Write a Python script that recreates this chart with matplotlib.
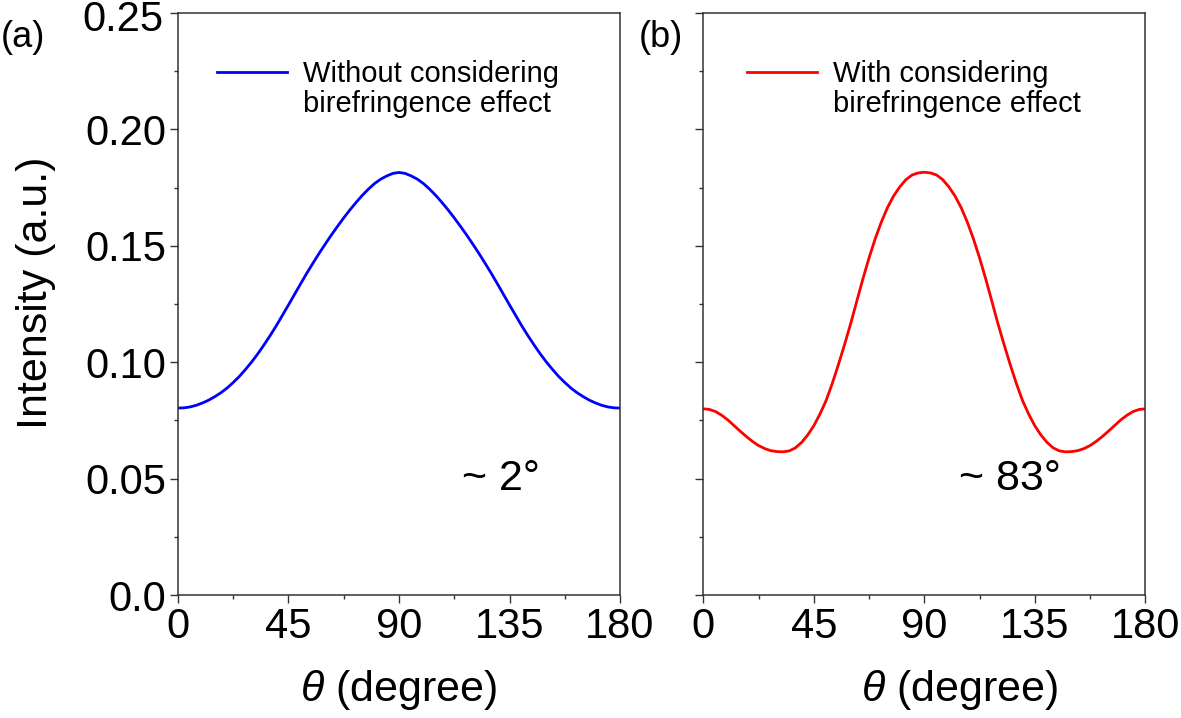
import numpy as np
import matplotlib.pyplot as plt
from matplotlib.ticker import MultipleLocator

plt.rcParams['font.family'] = ['Liberation Sans', 'DejaVu Sans']
plt.rcParams['mathtext.fontset'] = 'custom'
plt.rcParams['mathtext.it'] = 'Liberation Sans:italic'
plt.rcParams['mathtext.rm'] = 'Liberation Sans'

# angle (degree), 2.5 degree steps
theta = np.arange(0, 180.1, 2.5)

# for 0..90, the curves are mirrored about 90
half_blue = [0.0803, 0.0804, 0.0808, 0.0815, 0.0825, 0.0837, 0.0852, 0.0869,
             0.0889, 0.0913, 0.0939, 0.0969, 0.1001, 0.1036, 0.1074, 0.1114,
             0.1156, 0.1201, 0.1246, 0.1292, 0.1338, 0.1383, 0.1426, 0.1468,
             0.1508, 0.1547, 0.1584, 0.1620, 0.1654, 0.1686, 0.1716, 0.1743,
             0.1767, 0.1786, 0.1800, 0.1811, 0.1815]
half_red = [0.0800, 0.0797, 0.0788, 0.0772, 0.0752, 0.0728, 0.0704, 0.0681,
            0.0660, 0.0642, 0.0629, 0.0620, 0.0616, 0.0615, 0.0619, 0.0632,
            0.0655, 0.0687, 0.0727, 0.0777, 0.0835, 0.0908, 0.0989, 0.1075,
            0.1165, 0.1262, 0.1358, 0.1448, 0.1530, 0.1602, 0.1664, 0.1714,
            0.1753, 0.1784, 0.1804, 0.1813, 0.1816]
intensity_blue = half_blue + half_blue[-2::-1]
intensity_red = half_red + half_red[-2::-1]

legend_blue = ['Without considering', 'birefringence effect']
legend_red = ['With considering', 'birefringence effect']
yticks = [0, 0.05, 0.10, 0.15, 0.20, 0.25]
xticks = [0, 45, 90, 135, 180]

fig = plt.figure(figsize=(11.81, 7.18), dpi=100)
ax1 = fig.add_axes([0.1507, 0.1713, 0.3743, 0.8106])
ax2 = fig.add_axes([0.5955, 0.1713, 0.3743, 0.8106])

ax1.plot(theta, intensity_blue, color='#0000ff', lw=2.0, label=legend_blue[0])
ax2.plot(theta, intensity_red, color='#ff0000', lw=2.0, label=legend_red[0])

legs = []
for ax, lx in ((ax1, 0.088), (ax2, 0.0995)):
    ax.set_xlim(0, 180)
    ax.set_ylim(0, 0.25)
    ax.set_xticks(xticks)
    ax.set_yticks(yticks)
    ax.xaxis.set_minor_locator(MultipleLocator(22.5))
    ax.yaxis.set_minor_locator(MultipleLocator(0.025))
    ax.tick_params(which='major', direction='out', length=5.5, width=1.0,
                   color='#333333', labelsize=30, pad=3)
    ax.tick_params(which='minor', direction='out', length=3, width=1.0, color='#333333')
    for s in ax.spines.values():
        s.set_color('#333333')
        s.set_linewidth(1.1)
    ax.set_xlabel(r'$\theta$ (degree)', fontsize=31)
    leg = ax.legend(loc='upper left', bbox_to_anchor=(lx, 0.919), frameon=False,
                    fontsize=21, handlelength=2.4, handletextpad=0.55,
                    borderpad=0, borderaxespad=0)
    legs.append(leg)

# y labels: 0.0, 0.05 ... ; the top one is nudged down like in the original
ax1.set_yticklabels(['0.0', '0.05', '0.10', '0.15', '0.20', ''])
ax1.annotate('0.25', xy=(0, 0.25), xycoords=('axes fraction', 'data'),
             xytext=(-10.5, -5), textcoords='offset points',
             ha='right', va='center', fontsize=30)
ax2.tick_params(axis='y', labelleft=False)

ax1.set_ylabel('Intensity (a.u.)', fontsize=31)
ax1.yaxis.set_label_coords(-0.275, 0.52)
ax1.xaxis.set_label_coords(0.5, -0.125)
ax2.xaxis.set_label_coords(0.58, -0.125)

# second line of each legend entry, under the first (drawn after the legend)
for leg, lines in zip(legs, (legend_blue, legend_red)):
    first = leg.get_texts()[0]
    leg.axes.annotate(lines[1], xy=(0, 0), xycoords=first, xytext=(0, -21.8),
                      textcoords='offset points', ha='left', va='bottom',
                      fontsize=21, zorder=10)

ax1.text(131.5, 0.045, '~ 2°', fontsize=31, ha='center', va='baseline')
ax2.text(124.7, 0.045, '~ 83°', fontsize=31, ha='center', va='baseline')

fig.text(0.019, 0.948, '(a)', fontsize=26, ha='center', va='center')
fig.text(0.560, 0.948, '(b)', fontsize=26, ha='center', va='center')

fig.savefig('out.png', dpi=100)
